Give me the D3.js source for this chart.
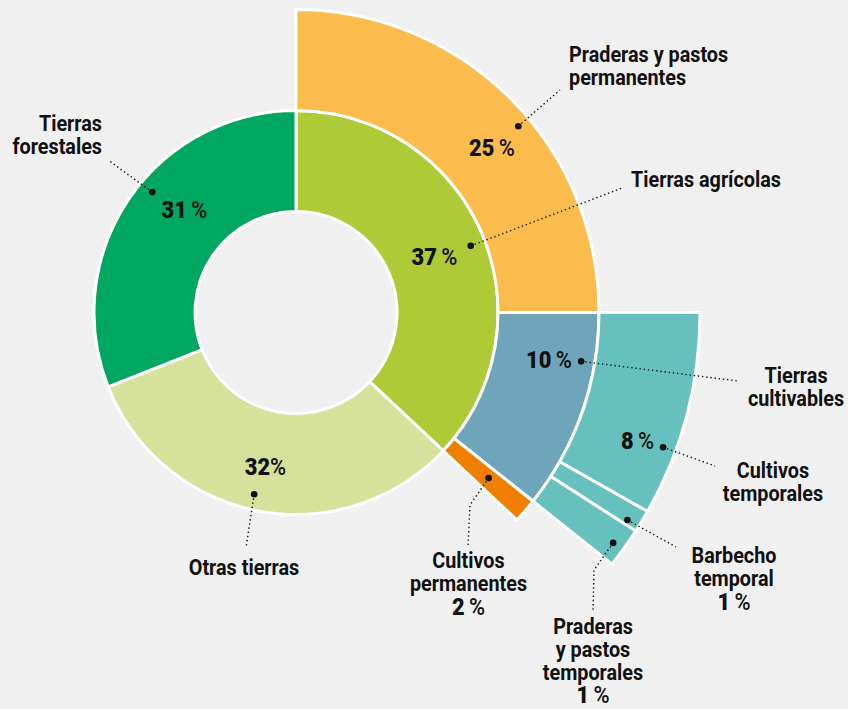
<!DOCTYPE html>
<html>
<head>
<meta charset="utf-8">
<script src="https://cdn.jsdelivr.net/npm/d3@7"></script>
<style>
  body { margin: 0; background: #f0f0f0; }
  svg { display: block; }
  text { font-family: Roboto, "Liberation Sans", sans-serif; fill: #111; }
</style>
</head>
<body>
<script>
// inner ring: the world's land
const landUse = ["Tierras agrícolas", "Otras tierras", "Tierras forestales"];
const landShare = [37, 32, 31];
const landPct = ["37 %", "32%", "31 %"];

// middle ring: agricultural land, starting at 12 o'clock
const agriUse = ["Praderas y pastos permanentes", "Tierras cultivables", "Cultivos permanentes"];
const agriShare = [25, 10.7, 1.3];
const agriPct = ["25 %", "10 %", "2 %"];

// outer ring: arable land
const arableUse = ["Cultivos temporales", "Barbecho temporal", "Praderas y pastos temporales"];
const arableShare = [8.2, 0.9, 1.6];
const arablePct = ["8 %", "1 %", "1 %"];

const width = 848, height = 709;
const cx = 296, cy = 312.5;
const squeeze = 0.9;     // condensed look for names
const pctSqueeze = 0.95;

const angle = d3.scaleLinear().domain([0, 100]).range([0, 2 * Math.PI]);
const radius = d3.scaleLinear().domain([0, 3]).range([101, 404]);

const rings = [
  {names: landUse, values: landShare, pct: landPct, offset: 0,
   colors: ["#afca37", "#d6e19b", "#00a760"]},
  {names: agriUse, values: agriShare, pct: agriPct, offset: 0,
   colors: ["#fcbc4d", "#6fa5bb", "#f07f00"]},
  {names: arableUse, values: arableShare, pct: arablePct, offset: agriShare[0],
   colors: ["#66c1be", "#66c1be", "#66c1be"]}
];

const segments = rings.flatMap((ring, i) => {
  const ends = d3.cumsum(ring.values);
  return ring.names.map((name, j) => ({
    name, ring: i, color: ring.colors[j], pct: ring.pct[j],
    start: ring.offset + ends[j] - ring.values[j],
    end: ring.offset + ends[j]
  }));
});

const arc = d3.arc()
    .innerRadius(d => radius(d.ring))
    .outerRadius(d => radius(d.ring + 1))
    .startAngle(d => angle(d.start))
    .endAngle(d => angle(d.end));

// annotation layout: dot (share position, radius), leader path, text block
const layout = {
  "Praderas y pastos permanentes": {at: [13.9, 290], leader: [[560, 90]],
    lines: ["Praderas y pastos", "permanentes"], x: 569, y: 61.5, anchor: "start", pctAt: [492, 156]},
  "Tierras agrícolas": {at: [19.2, 187], leader: [[622, 188]],
    lines: ["Tierras agrícolas"], x: 631, y: 186.5, anchor: "start", pctAt: [434.5, 264.5]},
  "Tierras forestales": {at: [86.1, 187.5], leader: [[108, 160]],
    lines: ["Tierras", "forestales"], x: 102, y: 130.5, anchor: "end", pctAt: [184.5, 217.5]},
  "Otras tierras": {at: [53.6, 186.5], leader: [[246, 548]],
    lines: ["Otras tierras"], x: 244, y: 575, anchor: "middle", pctAt: [265.5, 475]},
  "Tierras cultivables": {at: [27.7, 289.3], leader: [[738, 381]],
    lines: ["Tierras", "cultivables"], x: 796, y: 382.5, anchor: "middle", pctAt: [549, 367.5]},
  "Cultivos temporales": {at: [30.6, 391], leader: [[715, 466]],
    lines: ["Cultivos", "temporales"], x: 773, y: 477.5, anchor: "middle", pctAt: [637.5, 449]},
  "Barbecho temporal": {at: [33.9, 391], leader: [[676, 547]],
    lines: ["Barbecho", "temporal"], x: 734, y: 563, anchor: "middle", pctBelow: true},
  "Praderas y pastos temporales": {at: [35.0, 392], leader: [[594, 570], [593, 610]],
    lines: ["Praderas", "y pastos", "temporales"], x: 593, y: 633.5, anchor: "middle", pctBelow: true},
  "Cultivos permanentes": {at: [36.3, 254], leader: [[470, 505], [468, 546]],
    lines: ["Cultivos", "permanentes"], x: 468.5, y: 568, anchor: "middle", pctBelow: true}
};

const lineHeight = 23.3;

const svg = d3.select("body").append("svg")
    .attr("width", width)
    .attr("height", height)
    .attr("viewBox", [0, 0, width, height]);

const g = svg.append("g")
    .attr("transform", `translate(${cx},${cy})`);

g.append("g")
    .attr("stroke", "#fff")
    .attr("stroke-width", 3)
  .selectAll("path")
  .data(segments)
  .join("path")
    .attr("fill", d => d.color)
    .attr("d", arc);

// leader lines and dots
const notes = segments.map(d => {
  const l = layout[d.name];
  const dot = d3.pointRadial(angle(l.at[0]), l.at[1]);
  return {...d, ...l, dot};
});

svg.append("g")
    .attr("fill", "none")
    .attr("stroke", "#111")
    .attr("stroke-width", 1.4)
    .attr("stroke-dasharray", "1.4 2.8")
  .selectAll("path")
  .data(notes)
  .join("path")
    .attr("d", d => d3.line()([[cx + d.dot[0], cy + d.dot[1]], ...d.leader]));

svg.append("g")
    .attr("fill", "#111")
  .selectAll("circle")
  .data(notes)
  .join("circle")
    .attr("cx", d => cx + d.dot[0])
    .attr("cy", d => cy + d.dot[1])
    .attr("r", 3.3);

// category names
const names = svg.append("g")
    .attr("font-size", 22)
    .attr("font-weight", 700)
  .selectAll("text")
  .data(notes)
  .join("text")
    .attr("text-anchor", d => d.anchor)
    .attr("transform", d => `translate(${d.x},${d.y}) scale(${squeeze},1)`);

names.selectAll("tspan")
  .data(d => d.lines.map((t, i) => ({t, i})))
  .join("tspan")
    .attr("x", 0)
    .attr("dy", d => d.i ? lineHeight : 0)
    .text(d => d.t);

// percentages: heavy figure, lighter percent sign
const pct = svg.append("g")
    .attr("font-size", 23)
    .attr("text-anchor", "middle")
  .selectAll("text")
  .data(notes)
  .join("text")
    .attr("transform", d => d.pctBelow
      ? `translate(${d.x},${d.y + d.lines.length * lineHeight}) scale(${pctSqueeze},1)`
      : `translate(${d.pctAt[0]},${d.pctAt[1]}) scale(${pctSqueeze},1)`);

pct.append("tspan")
    .attr("font-weight", 900)
    .text(d => d.pct.replace(/\s?%/, ""));

pct.append("tspan")
    .attr("font-weight", 500)
    .text(d => d.pct.includes(" ") ? "\u2009%" : "%");
</script>
</body>
</html>
